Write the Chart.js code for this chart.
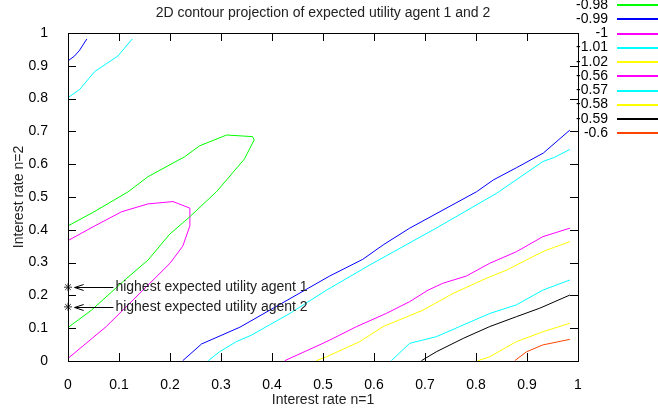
<!DOCTYPE html>
<html>
<head>
<meta charset="utf-8">
<script src="https://cdn.jsdelivr.net/npm/chart.js@4.4.1/dist/chart.umd.min.js"></script>
<style>
  html, body { margin: 0; padding: 0; background: #fff; }
</style>
</head>
<body>
<canvas id="contour" width="658" height="414"></canvas>
<script>
// contour levels and their colours (legend order)
const levels = ['-0.98', '-0.99', '-1', '-1.01', '-1.02', '-0.56', '-0.57', '-0.58', '-0.59', '-0.6'];
const levelColors = ['#00ff00', '#0000ff', '#ff00ff', '#00ffff', '#ffff00', '#ff00ff', '#00ffff', '#ffff00', '#000000', '#ff4500'];

const xTicks = [0, 0.1, 0.2, 0.3, 0.4, 0.5, 0.6, 0.7, 0.8, 0.9, 1];
const yTicks = [0, 0.1, 0.2, 0.3, 0.4, 0.5, 0.6, 0.7, 0.8, 0.9, 1];

// contour lines as [n=1 rate, n=2 rate] pairs
const level098 = [[0, 0.102], [0.046, 0.155], [0.115, 0.252], [0.157, 0.308], [0.199, 0.386], [0.239, 0.440],
  [0.291, 0.516], [0.311, 0.552], [0.346, 0.616], [0.365, 0.674], [0.362, 0.684], [0.311, 0.689], [0.258, 0.656],
  [0.229, 0.623], [0.157, 0.562], [0.118, 0.516], [0.049, 0.453], [0, 0.412]];
const level099Top = [[0, 0.915], [0.013, 0.930], [0.023, 0.948], [0.037, 0.982]];
const level099Low = [[0.225, 0.001], [0.262, 0.052], [0.337, 0.103], [0.513, 0.259], [0.578, 0.310], [0.618, 0.354],
  [0.670, 0.405], [0.801, 0.516], [0.834, 0.552], [0.879, 0.589], [0.932, 0.634], [0.984, 0.704]];
const level100 = [[0, 0.008], [0.075, 0.105], [0.200, 0.298], [0.225, 0.350], [0.239, 0.412], [0.239, 0.466],
  [0.206, 0.486], [0.157, 0.479], [0.105, 0.455], [0.049, 0.409], [0, 0.367]];
const level101Top = [[0, 0.803], [0.023, 0.828], [0.052, 0.882], [0.098, 0.930], [0.126, 0.982]];
const level101Low = [[0.275, 0.001], [0.297, 0.028], [0.330, 0.059], [0.360, 0.079], [0.395, 0.110], [0.435, 0.145],
  [0.507, 0.216], [0.592, 0.293], [0.722, 0.405], [0.840, 0.511], [0.931, 0.608], [0.954, 0.621], [0.984, 0.645]];
const level102 = [[0.487, 0.001], [0.507, 0.013], [0.572, 0.059], [0.618, 0.105], [0.696, 0.155], [0.755, 0.206],
  [0.820, 0.252], [0.860, 0.277], [0.905, 0.313], [0.935, 0.336], [0.984, 0.364]];
const level056 = [[0.425, 0.001], [0.500, 0.054], [0.520, 0.069], [0.566, 0.105], [0.624, 0.145], [0.670, 0.181],
  [0.706, 0.216], [0.735, 0.237], [0.781, 0.259], [0.827, 0.298], [0.879, 0.333], [0.931, 0.379], [0.984, 0.405]];
const level057 = [[0.634, 0.001], [0.670, 0.054], [0.722, 0.074], [0.768, 0.105], [0.827, 0.145], [0.879, 0.171],
  [0.931, 0.216], [0.984, 0.247]];
const level058 = [[0.804, 0.001], [0.827, 0.013], [0.879, 0.059], [0.931, 0.089], [0.984, 0.115]];
const level059 = [[0.693, 0.001], [0.722, 0.028], [0.775, 0.069], [0.827, 0.105], [0.879, 0.135], [0.925, 0.161],
  [0.984, 0.201]];
const level060 = [[0.876, 0.001], [0.899, 0.028], [0.931, 0.049], [0.984, 0.066]];

// highest expected utility markers
const markerX = [0, 0];
const markerY = [0.225, 0.165];
const markerText = ['highest expected utility agent 1', 'highest expected utility agent 2'];
const arrowFromX = 0.089;
const arrowToX = 0.013;

// [legend index, points]
const segments = [
  [0, level098], [1, level099Top], [1, level099Low], [2, level100], [3, level101Top], [3, level101Low],
  [4, level102], [5, level056], [6, level057], [7, level058], [8, level059], [9, level060]
];

const FONT = '"Liberation Sans", Arial, sans-serif';

const datasets = segments.map(([idx, pts]) => ({
  label: levels[idx],
  data: pts.map(p => ({ x: p[0], y: p[1] })),
  borderColor: levelColors[idx],
  borderWidth: 1,
  pointRadius: 0,
  tension: 0,
  fill: false
}));

datasets.push({
  type: 'scatter',
  label: 'markers',
  data: markerX.map((v, i) => ({ x: v, y: markerY[i] })),
  pointStyle: 'star',
  pointRadius: 4,
  borderColor: '#333',
  borderWidth: 1,
  clip: false
});

const gnuplotFrame = {
  id: 'gnuplotFrame',
  afterDatasetsDraw(chart) {
    const { ctx, chartArea: a, scales: { x, y } } = chart;
    ctx.save();
    ctx.strokeStyle = '#000';
    ctx.lineWidth = 1;
    ctx.beginPath();
    xTicks.forEach(v => {
      const px = Math.round(x.getPixelForValue(v)) + 0.5;
      ctx.moveTo(px, a.bottom); ctx.lineTo(px, a.bottom - 8);
      ctx.moveTo(px, a.top); ctx.lineTo(px, a.top + 8);
    });
    yTicks.forEach(v => {
      const py = Math.round(y.getPixelForValue(v)) + 0.5;
      ctx.moveTo(a.left, py); ctx.lineTo(a.left + 8, py);
      ctx.moveTo(a.right, py); ctx.lineTo(a.right - 8, py);
    });
    ctx.stroke();
    ctx.strokeRect(a.left + 0.5, a.top + 0.5, a.right - a.left, a.bottom - a.top);

    // arrows + labels
    ctx.font = '14px ' + FONT;
    ctx.fillStyle = '#222';
    ctx.textAlign = 'left';
    ctx.textBaseline = 'middle';
    markerY.forEach((v, i) => {
      const py = Math.round(y.getPixelForValue(v)) + 0.5;
      const tail = x.getPixelForValue(arrowFromX);
      const tip = x.getPixelForValue(arrowToX);
      ctx.beginPath();
      ctx.moveTo(tail, py); ctx.lineTo(tip, py);
      ctx.moveTo(tip + 9, py - 3); ctx.lineTo(tip, py); ctx.lineTo(tip + 9, py + 3);
      ctx.stroke();
      ctx.fillText(markerText[i], tail + 2, py);
    });

    // title
    ctx.textAlign = 'center';
    ctx.fillText('2D contour projection of expected utility agent 1 and 2', 323, 13);

    // legend: text, then colour samples
    ctx.textAlign = 'right';
    ctx.fillStyle = '#000';
    levels.forEach((lab, i) => {
      ctx.fillText(lab, 608, 4.7 + i * 14.25);
    });
    levels.forEach((lab, i) => {
      ctx.fillStyle = levelColors[i];
      ctx.fillRect(617, Math.floor(4.7 + i * 14.25), 45, 2);
    });
    ctx.restore();
  }
};

const fmt = v => String(Math.round(v * 10) / 10);

new Chart(document.getElementById('contour'), {
  type: 'line',
  data: { datasets },
  options: {
    responsive: false,
    animation: false,
    devicePixelRatio: 1,
    layout: { padding: { top: 33, right: 80, left: 0, bottom: 0 } },
    plugins: { legend: { display: false }, tooltip: { enabled: false }, title: { display: false } },
    scales: {
      x: {
        type: 'linear', min: 0, max: 1,
        afterBuildTicks: s => { s.ticks = xTicks.map(v => ({ value: v })); },
        afterFit: s => { s.height = 53; },
        grid: { display: false },
        border: { display: false },
        ticks: { callback: fmt, color: '#000', padding: 8, maxRotation: 0, autoSkip: false, font: { family: FONT, size: 14 } },
        title: { display: true, text: 'Interest rate n=1', color: '#222', padding: { top: 0, bottom: 5 }, font: { family: FONT, size: 14 } }
      },
      y: {
        type: 'linear', min: 0, max: 1,
        afterBuildTicks: s => { s.ticks = yTicks.map(v => ({ value: v })); },
        afterFit: s => { s.width = 68; },
        grid: { display: false },
        border: { display: false },
        ticks: { callback: fmt, color: '#000', padding: 12, autoSkip: false, font: { family: FONT, size: 14 } },
        title: { display: true, text: 'Interest rate n=2', color: '#222', padding: { top: 11, bottom: 0 }, font: { family: FONT, size: 14 } }
      }
    }
  },
  plugins: [gnuplotFrame]
});
</script>
</body>
</html>
